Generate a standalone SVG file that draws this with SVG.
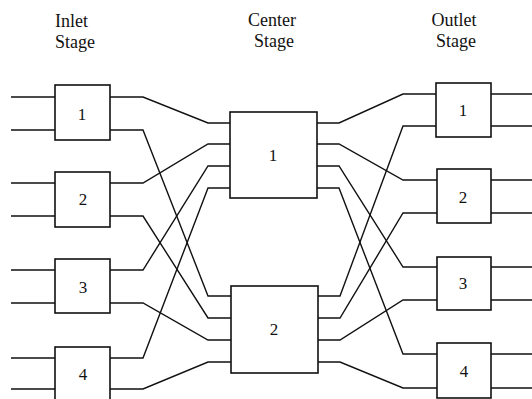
<svg xmlns="http://www.w3.org/2000/svg" width="532" height="399" viewBox="0 0 532 399">
  <style>
    .box { fill: #fff; stroke: #111; stroke-width: 1.6; }
    .wire { fill: none; stroke: #111; stroke-width: 1.4; stroke-linejoin: miter; }
    .lbl { font-family: "Liberation Serif", "Times New Roman", serif; font-size: 18px; fill: #111; }
    .num { font-family: "Liberation Serif", "Times New Roman", serif; font-size: 17px; fill: #111; text-anchor: middle; }
  </style>
  <rect width="532" height="399" fill="#fff"/>

  <!-- stage headings -->
  <g id="headings">
    <text class="lbl" x="55" y="27">Inlet</text>
    <text class="lbl" x="55" y="48">Stage</text>
    <text class="lbl" x="272" y="26" text-anchor="middle">Center</text>
    <text class="lbl" x="274" y="47" text-anchor="middle">Stage</text>
    <text class="lbl" x="454" y="26" text-anchor="middle">Outlet</text>
    <text class="lbl" x="456" y="47" text-anchor="middle">Stage</text>
  </g>

  <!-- connectors -->
  <g id="connectors" class="wire">
    <!-- inlet inputs -->
    <path d="M11 97H55M11 130H55M11 183H55M11 216H55M11 270H55M11 303H55M11 358H55M11 389H55"/>
    <!-- inlet to center -->
    <path d="M110 97H143L208 123H230"/>
    <path d="M110 130H143L208 296H231"/>
    <path d="M110 183H143L208 144H230"/>
    <path d="M110 216H143L208 318H231"/>
    <path d="M110 270H143L208 166H230"/>
    <path d="M110 303H143L208 340H231"/>
    <path d="M110 358H143L208 188H230"/>
    <path d="M110 389H143L208 362H231"/>
    <!-- center to outlet -->
    <path d="M317 123H339L403 94H436"/>
    <path d="M317 144H339L403 180H437"/>
    <path d="M317 166H339L403 267H437"/>
    <path d="M317 188H339L403 354H437"/>
    <path d="M318 296H340L403 126H436"/>
    <path d="M318 318H340L403 213H437"/>
    <path d="M318 340H340L403 300H437"/>
    <path d="M318 362H340L403 388H437"/>
    <!-- outlet outputs -->
    <path d="M491 94H532M491 126H532M491 180H532M491 213H532M491 267H532M491 300H532M491 354H532M491 388H532"/>
  </g>

  <!-- inlet stage switches -->
  <g id="inlet-1"><rect class="box" x="55" y="85" width="55" height="55"/><text class="num" x="82" y="120">1</text></g>
  <g id="inlet-2"><rect class="box" x="55" y="172" width="55" height="55"/><text class="num" x="83" y="205">2</text></g>
  <g id="inlet-3"><rect class="box" x="55" y="259" width="55" height="54"/><text class="num" x="83" y="293">3</text></g>
  <g id="inlet-4"><rect class="box" x="55" y="347" width="55" height="55"/><text class="num" x="83" y="380">4</text></g>

  <!-- center stage switches -->
  <g id="center-1"><rect class="box" x="230" y="112" width="87" height="86"/><text class="num" x="273" y="161">1</text></g>
  <g id="center-2"><rect class="box" x="231" y="286" width="87" height="87"/><text class="num" x="274" y="335">2</text></g>

  <!-- outlet stage switches -->
  <g id="outlet-1"><rect class="box" x="436" y="83" width="55" height="54"/><text class="num" x="463" y="116">1</text></g>
  <g id="outlet-2"><rect class="box" x="437" y="169" width="54" height="54"/><text class="num" x="463" y="203">2</text></g>
  <g id="outlet-3"><rect class="box" x="437" y="257" width="54" height="53"/><text class="num" x="463" y="289">3</text></g>
  <g id="outlet-4"><rect class="box" x="437" y="343" width="54" height="55"/><text class="num" x="464" y="377">4</text></g>
</svg>
